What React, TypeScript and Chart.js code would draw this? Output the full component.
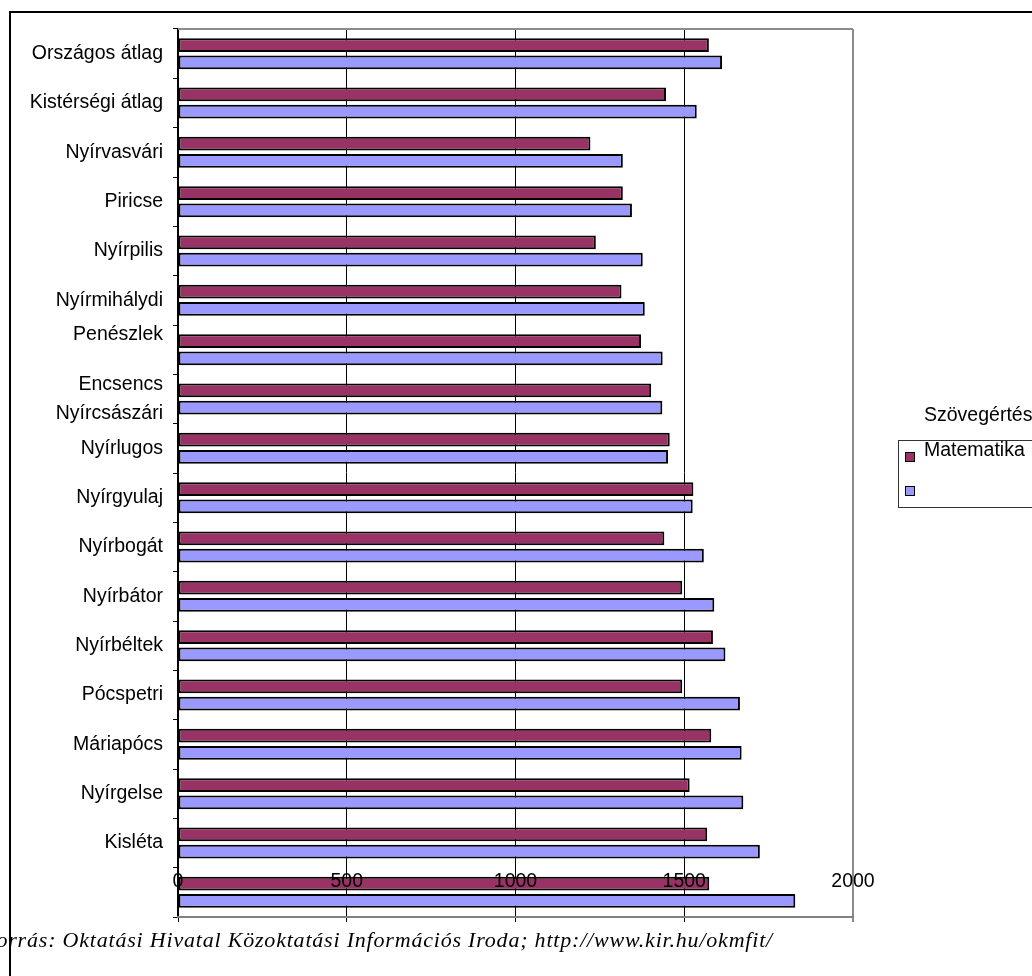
import React, { useEffect, useRef } from 'react';
import { Chart, registerables } from 'chart.js';

Chart.register(...registerables);

const categories: (string | string[])[] = [
  'Országos átlag',
  'Kistérségi átlag',
  'Nyírvasvári',
  'Piricse',
  'Nyírpilis',
  'Nyírmihálydi',
  ['Penészlek', ''],
  ['Encsencs', 'Nyírcsászári'],
  'Nyírlugos',
  'Nyírgyulaj',
  'Nyírbogát',
  'Nyírbátor',
  'Nyírbéltek',
  'Pócspetri',
  'Máriapócs',
  'Nyírgelse',
  'Kisléta',
  '',
];

const mathLabel = 'Matematika';
const readingLabel = 'Szövegértés';

const mathValues = [1573, 1446, 1222, 1318, 1238, 1314, 1372, 1402, 1457, 1527, 1441, 1494, 1585, 1494, 1580, 1516, 1568, 1574];
const readingValues = [1612, 1537, 1318, 1345, 1377, 1383, 1436, 1435, 1452, 1525, 1558, 1589, 1622, 1665, 1670, 1675, 1724, 1829];

const xTicks = [0, 500, 1000, 1500, 2000];

const sourceText = 'Forrás: Oktatási Hivatal Közoktatási Információs Iroda; http://www.kir.hu/okmfit/';

const MATH_COLOR = '#993366';
const READING_COLOR = '#9999FF';

const framePlugin = {
  id: 'plotFrame',
  beforeDatasetsDraw(chart: any) {
    const { ctx, chartArea: a } = chart;
    ctx.save();
    ctx.strokeStyle = '#8c8c8c';
    ctx.lineWidth = 2;
    ctx.beginPath();
    ctx.moveTo(a.left, a.top);
    ctx.lineTo(a.right, a.top);
    ctx.stroke();
    ctx.restore();
  },
};

export default function App() {
  const canvasRef = useRef<HTMLCanvasElement | null>(null);

  useEffect(() => {
    if (!canvasRef.current) return;
    Chart.defaults.font.family = '"Liberation Sans", Arial, sans-serif';
    const chart = new Chart(canvasRef.current, {
      type: 'bar',
      data: {
        labels: categories as any,
        datasets: [
          {
            label: mathLabel,
            data: mathValues,
            backgroundColor: MATH_COLOR,
            borderColor: '#000',
            borderWidth: 2,
            borderSkipped: false,
            categoryPercentage: 0.7,
            barPercentage: 0.8,
          },
          {
            label: readingLabel,
            data: readingValues,
            backgroundColor: READING_COLOR,
            borderColor: '#000',
            borderWidth: 2,
            borderSkipped: false,
            categoryPercentage: 0.7,
            barPercentage: 0.8,
          },
        ],
      },
      options: {
        indexAxis: 'y',
        responsive: false,
        animation: false,
        layout: { padding: { left: 0, top: 29, right: 179, bottom: 59 } },
        plugins: { legend: { display: false }, tooltip: { enabled: false } },
        scales: {
          y: {
            type: 'category',
            offset: true,
            grid: {
              offset: true,
              drawOnChartArea: false,
              drawTicks: true,
              tickLength: 5,
              color: '#000',
              lineWidth: 1,
            },
            border: { display: true, color: '#000', width: 1.5 },
            ticks: {
              color: '#000',
              font: { size: 19.5, lineHeight: 1.5 },
              padding: 10,
              autoSkip: false,
            },
            afterFit: (s: any) => {
              s.width = 178;
            },
          },
          x: {
            type: 'linear',
            position: 'bottom',
            min: 0,
            max: 2000,
            afterBuildTicks: (s: any) => {
              s.ticks = xTicks.map((v) => ({ value: v }));
            },
            grid: {
              color: (c: any) => (c.tick && c.tick.value === 2000 ? '#8c8c8c' : '#000'),
              lineWidth: (c: any) => (c.tick && c.tick.value === 2000 ? 2 : 1),
              tickLength: 5,
              drawTicks: true,
            },
            border: { color: '#808080', width: 2 },
            ticks: {
              color: '#000',
              font: { size: 19.5 },
              mirror: true,
              padding: 24,
              z: 1,
              maxRotation: 0,
              autoSkip: false,
              callback: (v: any) => String(v),
            },
            afterFit: (s: any) => {
              s.height = 0;
            },
          },
        },
      },
      plugins: [framePlugin],
    } as any);
    return () => chart.destroy();
  }, []);

  const sans = '"Liberation Sans", Arial, sans-serif';

  return (
    <div
      style={{
        position: 'absolute',
        left: 0,
        top: 0,
        width: 1032,
        height: 976,
        overflow: 'hidden',
        background: '#fff',
      }}
    >
      <div
        style={{
          position: 'absolute',
          left: 9,
          top: 11,
          width: 1200,
          height: 1200,
          borderLeft: '2px solid #000',
          borderTop: '2px solid #000',
        }}
      />
      <canvas ref={canvasRef} width={1032} height={976} style={{ position: 'absolute', left: 0, top: 0 }} />
      <div
        style={{
          position: 'absolute',
          left: 924,
          top: 404.5,
          font: `19.5px ${sans}`,
          lineHeight: 1,
          whiteSpace: 'nowrap',
          color: '#000',
        }}
      >
        {readingLabel}
      </div>
      <div
        style={{
          position: 'absolute',
          left: 898,
          top: 440,
          width: 200,
          height: 66,
          border: '1px solid #333',
        }}
      />
      <div
        style={{
          position: 'absolute',
          left: 905,
          top: 452,
          width: 8,
          height: 8,
          background: MATH_COLOR,
          border: '1.5px solid #000',
        }}
      />
      <div
        style={{
          position: 'absolute',
          left: 924,
          top: 440,
          font: `19.5px ${sans}`,
          lineHeight: 1,
          whiteSpace: 'nowrap',
          color: '#000',
        }}
      >
        {mathLabel}
      </div>
      <div
        style={{
          position: 'absolute',
          left: 905,
          top: 486,
          width: 8,
          height: 8,
          background: READING_COLOR,
          border: '1.5px solid #000',
        }}
      />
      <div
        style={{
          position: 'absolute',
          right: 259,
          top: 929,
          font: `italic 22px "Liberation Serif", "Times New Roman", serif`,
          letterSpacing: '0.8px',
          lineHeight: 1,
          whiteSpace: 'nowrap',
          color: '#000',
        }}
      >
        {sourceText}
      </div>
    </div>
  );
}
